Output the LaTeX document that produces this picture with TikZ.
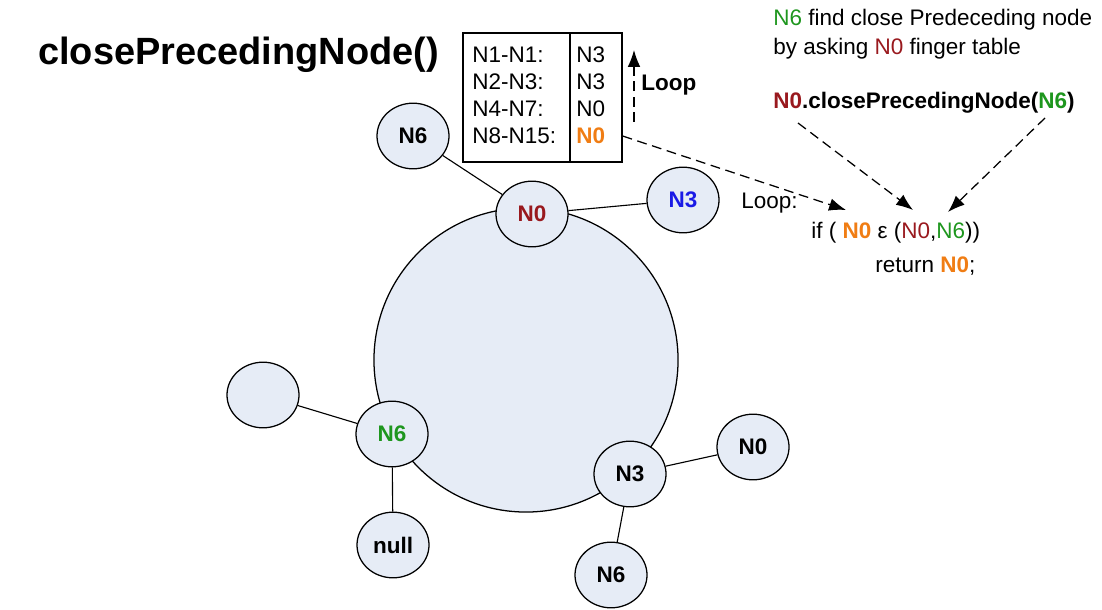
\documentclass[tikz,border=0pt]{standalone}
\usepackage{fontspec}
\setmainfont{Liberation Sans}
\usetikzlibrary{arrows.meta,positioning,shapes.geometric}
\definecolor{ringfill}{HTML}{E6ECF6}
\definecolor{nzero}{HTML}{99191E}
\definecolor{nthree}{HTML}{1A1AE6}
\definecolor{nsix}{HTML}{1E961E}
\definecolor{hit}{HTML}{F07D14}
\newcommand{\chordfont}{\fontsize{16}{20.6}\selectfont}

\begin{document}
\begin{tikzpicture}[
  x=0.025cm, y=-0.025cm,
  every node/.style={font=\chordfont},
  peer/.style={ellipse,draw,fill=ringfill,minimum width=1.8cm,minimum height=1.64cm,inner sep=0pt,font=\chordfont\bfseries,line width=0.9pt},
  link/.style={line width=0.8pt},
  note/.style={anchor=west,inner sep=0pt,align=left},
  hop/.style={-{Latex[length=12pt,width=9pt]},line width=0.9pt,dash pattern=on 7pt off 4pt},
]
\useasboundingbox (0,0) rectangle (1102,610);

% ring and peers
\node[circle,draw,fill=ringfill,minimum size=7.6cm,line width=0.9pt] (ring) at (526,360) {};
\node[peer] (topsix) at (413,136) {N6};
\node[peer,text=nzero] (zero) at (532,214) {N0};
\node[peer,text=nthree] (topthree) at (683,200) {N3};
\node[peer] (blank) at (263,395) {};
\node[peer,text=nsix] (six) at (392,434) {N6};
\node[peer] (nil) at (393,545) {null};
\node[peer] (three) at (630,474) {N3};
\node[peer] (farzero) at (753,447) {N0};
\node[peer] (lowsix) at (611,575) {N6};

\draw[link] (topsix) -- (zero);
\draw[link] (zero) -- (topthree);
\draw[link] (blank) -- (six);
\draw[link] (six) -- (nil);
\draw[link] (three) -- (farzero);
\draw[link] (three) -- (lowsix);

\node[anchor=west,inner sep=0pt,font=\fontsize{27}{33}\selectfont\bfseries] (title) at (38,55) {closePrecedingNode()};

% finger table
\node[draw,minimum width=3.975cm,minimum height=3.225cm,line width=0.8pt] (fingers) at (542.5,97.5) {};
\coordinate (split) at (570,97);
\draw[line width=0.8pt] (fingers.north -| split) -- (fingers.south -| split);
\foreach \range/\succ [count=\i] in {N1-N1:/N3, N2-N3:/N3, N4-N7:/N0, N8-N15:/{\textcolor{hit}{\bfseries N0}}} {
  \node[note] (range\i) at (472,28+27*\i) {\range};
  \node[note] (succ\i) at (576,28+27*\i) {\succ};
}

\coordinate (loopfoot) at (634,122);
\coordinate (loophead) at (634,50);
\draw[hop] (loopfoot) -- (loophead);
\node[note,font=\chordfont\bfseries] (looptag) at (641,85) {Loop};

% lookup on N0
\node[note] (goal) at (773,34) {\textcolor{nsix}{N6} find close Predeceding node\\by asking \textcolor{nzero}{N0} finger table};
\node[note,font=\chordfont\bfseries] (call) at (773,103) {\textcolor{nzero}{N0}.closePrecedingNode(\textcolor{nsix}{N6})};
\node[note] (looplabel) at (741,203) {Loop:};
\node[note] (test) at (811,233) {if ( \textcolor{hit}{\bfseries N0} ε (\textcolor{nzero}{N0},\textcolor{nsix}{N6}))};
\node[note] (ret) at (875,266) {return \textcolor{hit}{\bfseries N0};};

\coordinate (scanend) at (846,210);
\coordinate (callleft) at (798,123);
\coordinate (callright) at (1045,118);
\coordinate (testleft) at (913,210);
\coordinate (testright) at (948,212);
\draw[hop] (fingers.east |- succ4) -- (scanend);
\draw[hop] (callleft) -- (testleft);
\draw[hop] (callright) -- (testright);
\end{tikzpicture}
\end{document}
